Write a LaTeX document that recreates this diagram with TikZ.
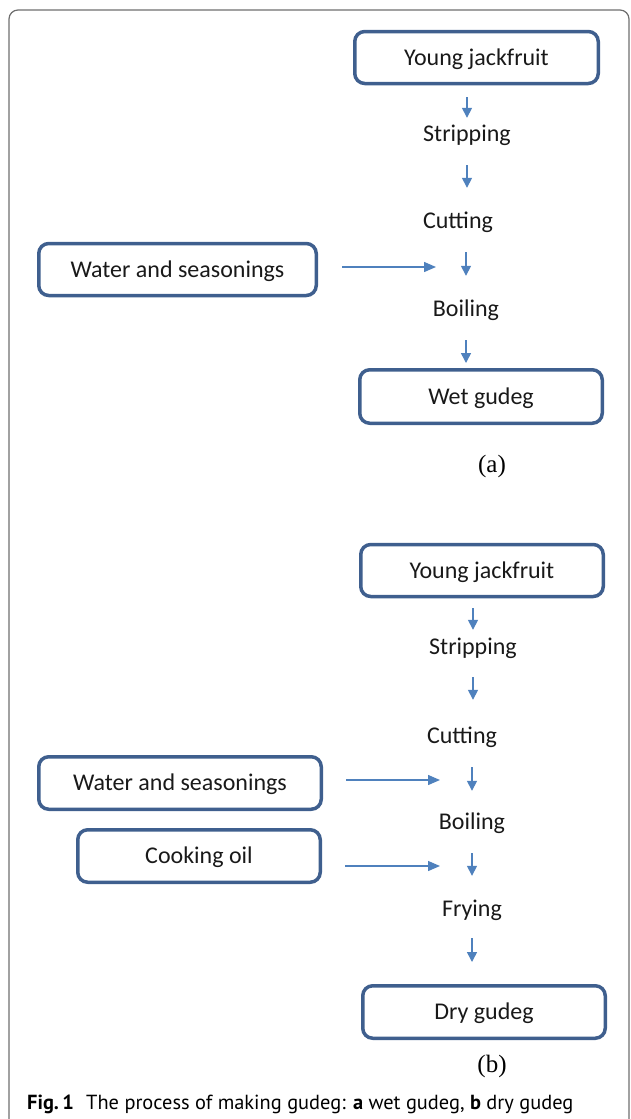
\documentclass[tikz,border=0pt]{standalone}
\usepackage{fontspec}
\setmainfont{Carlito}
\newfontfamily\capfont{PT Sans}
\newfontfamily\labfont{Liberation Serif}
\usepackage{tikz}
\usetikzlibrary{arrows.meta,calc}
\definecolor{boxblue}{HTML}{3F5F8E}
\definecolor{arrblue}{HTML}{4F81BD}
\definecolor{framegray}{HTML}{6E6E6E}

\begin{document}
\begin{tikzpicture}[x=1pt,y=-1pt,
    box/.style={draw=boxblue, line width=3.5pt, rounded corners=10pt, minimum width=242.5pt, minimum height=52pt, inner sep=0pt, text height=19pt, text depth=4pt, font=\fontsize{24}{28}\selectfont, text=black!90},
    stage/.style={inner sep=0pt, text height=18pt, text depth=6pt, font=\fontsize{24}{28}\selectfont, text=black!90},
    arr/.style={-{Triangle[length=10pt,width=10pt]}, draw=arrblue, line width=1.5pt, shorten <=18pt, shorten >=22pt},
    harr/.style={-{Triangle[length=12pt,width=10pt]}, draw=arrblue, line width=1.4pt},
    panel/.style={font=\labfont\fontsize{25}{28}\selectfont}
]
\useasboundingbox (0,0) rectangle (630,1119);
\draw[framegray, line width=1.2pt, rounded corners=9pt] (9,1119) -- (9,10) -- (629,10) -- (629,1119);

% (a) wet gudeg
\node[box, minimum width=243.5pt] (yjA) at (476.5,57.5) {Young jackfruit};
\node[stage] (stripA) at (467,135) {Stripping};
\node[stage] (cutA) at (458,222) {Cutting};
\node[stage] (boilA) at (466,310) {Boiling};
\node[box, minimum width=277.5pt] (wsA) at (177.5,269.5) {Water and seasonings};
\node[box, minimum height=53.5pt] (wetA) at (481,396.5) {Wet gudeg};
\node[panel] (labA) at (492,466) {(a)};

\draw[arr, shorten <=12pt, shorten >=5pt] (yjA.south -| stripA) -- (stripA.north);
\draw[arr] (stripA.south) -- (stripA.south |- cutA.north);
\draw[arr] (cutA.south -| boilA) -- (boilA.north);
\draw[arr, shorten >=5pt] (boilA.south) -- (boilA.south |- wetA.north);
\draw[harr, shorten <=24pt, shorten >=30pt] ([yshift=2.5pt]wsA.east) -- ([yshift=2.5pt]wsA.east -| boilA);

% (b) dry gudeg
\node[box] (yjB) at (482,570.5) {Young jackfruit};
\node[stage] (stripB) at (473,648) {Stripping};
\node[stage] (cutB) at (462,737) {Cutting};
\node[stage] (boilB) at (472,823) {Boiling};
\node[stage] (fryB) at (472,910) {Frying};
\node[box, minimum width=282.5pt, minimum height=52.5pt] (wsB) at (180,783) {Water and seasonings};
\node[box, minimum height=52.5pt] (oilB) at (199,856) {Cooking oil};
\node[box, minimum height=52.5pt] (dryB) at (484,1012) {Dry gudeg};
\node[panel] (labB) at (492,1066) {(b)};

\draw[arr, shorten <=10pt, shorten >=6pt] (yjB.south -| stripB) -- (stripB.north);
\draw[arr, shorten <=17pt, shorten >=25pt] (stripB.south) -- (stripB.south |- cutB.north);
\draw[arr, shorten >=20pt] (cutB.south -| boilB) -- (boilB.north);
\draw[arr] (boilB.south) -- (fryB.north);
\draw[arr, shorten <=16pt] (fryB.south) -- (fryB.south |- dryB.north);
\draw[harr, shorten <=23pt, shorten >=32pt] ([yshift=3pt]wsB.east) -- ([yshift=3pt]wsB.east -| boilB);
\draw[harr, shorten <=23pt, shorten >=32pt] ([yshift=-10pt]oilB.east) -- ([yshift=-10pt]oilB.east -| boilB);

% caption
\node[anchor=base west, inner sep=0pt, font=\capfont\fontsize{20.4}{24}\selectfont] (cap) at (27,1109)
  {\textbf{Fig.\,1}\hspace{0.6em}The process of making gudeg: \textbf{a} wet gudeg, \textbf{b} dry gudeg};
\end{tikzpicture}
\end{document}
